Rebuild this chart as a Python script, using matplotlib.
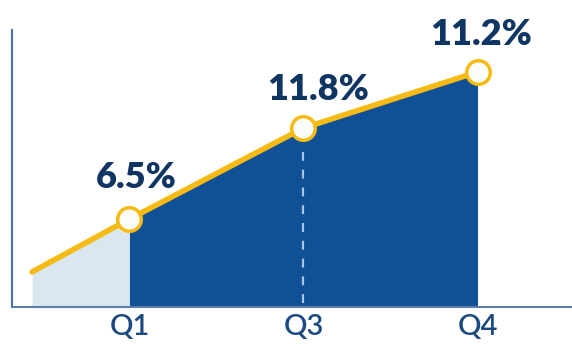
import matplotlib
matplotlib.use("Agg")
import matplotlib.pyplot as plt

# data (levels are the drawn heights, labels are the printed values)
quarters = ["Q1", "Q3", "Q4"]
quarter_x = [1, 2, 3]
line_x = [0.44, 1, 2, 3]
line_level = [1.67, 4.19, 8.53, 11.2]
value_labels = ["6.5%", "11.8%", "11.2%"]

YELLOW = "#f5bb14"
DARK = "#0f5096"
LIGHT = "#dbe7ee"
NAVY = "#0f3563"

plt.rcParams['font.family'] = ['Lato', 'DejaVu Sans']

fig = plt.figure(figsize=(5.72, 3.52), dpi=100)
ax = fig.add_axes([12 / 572, 45 / 352, 560 / 572, 277 / 352])
ax.set_xlim(0.325, 3.543)
ax.set_ylim(0, 13.2)

# light area before Q1, dark area from Q1 to Q4
ax.fill_between(line_x[:2], 0, line_level[:2], color=LIGHT, lw=0, zorder=1)
ax.fill_between(line_x[1:], 0, line_level[1:], color=DARK, lw=0, zorder=1)

# dashed guide at Q3
ax.vlines(quarter_x[1], 0.2, line_level[2] - 1.1, colors="#a9c5e3", linestyles=(0, (4, 4)),
          lw=1.6, zorder=2)

ax.plot(line_x, line_level, color=YELLOW, lw=4, solid_capstyle="round", zorder=3)
ax.plot(quarter_x, line_level[1:], ls="none", marker="o", ms=17, mfc="#fbfbf8",
        mec=YELLOW, mew=2.5, zorder=4, clip_on=False)

offsets = [(7, 31), (15, 28), (4, 27)]
for xq, yq, lab, off in zip(quarter_x, line_level[1:], value_labels, offsets):
    ax.annotate(lab, (xq, yq), xytext=off, textcoords="offset pixels", ha="center",
                va="baseline", fontsize=26, fontweight="heavy", color=NAVY,
                annotation_clip=False)

ax.set_xticks(quarter_x)
ax.set_xticklabels(quarters, fontsize=21, fontweight="semibold", color="#1c4a80")
ax.tick_params(axis="x", length=0, pad=5)
ax.set_yticks([])

for side in ("top", "right"):
    ax.spines[side].set_visible(False)
ax.spines["left"].set_color("#4a72a8")
ax.spines["left"].set_linewidth(1.5)
ax.spines["bottom"].set_color("#5a7fad")
ax.spines["bottom"].set_linewidth(1.5)

fig.savefig("out.png", dpi=100)
